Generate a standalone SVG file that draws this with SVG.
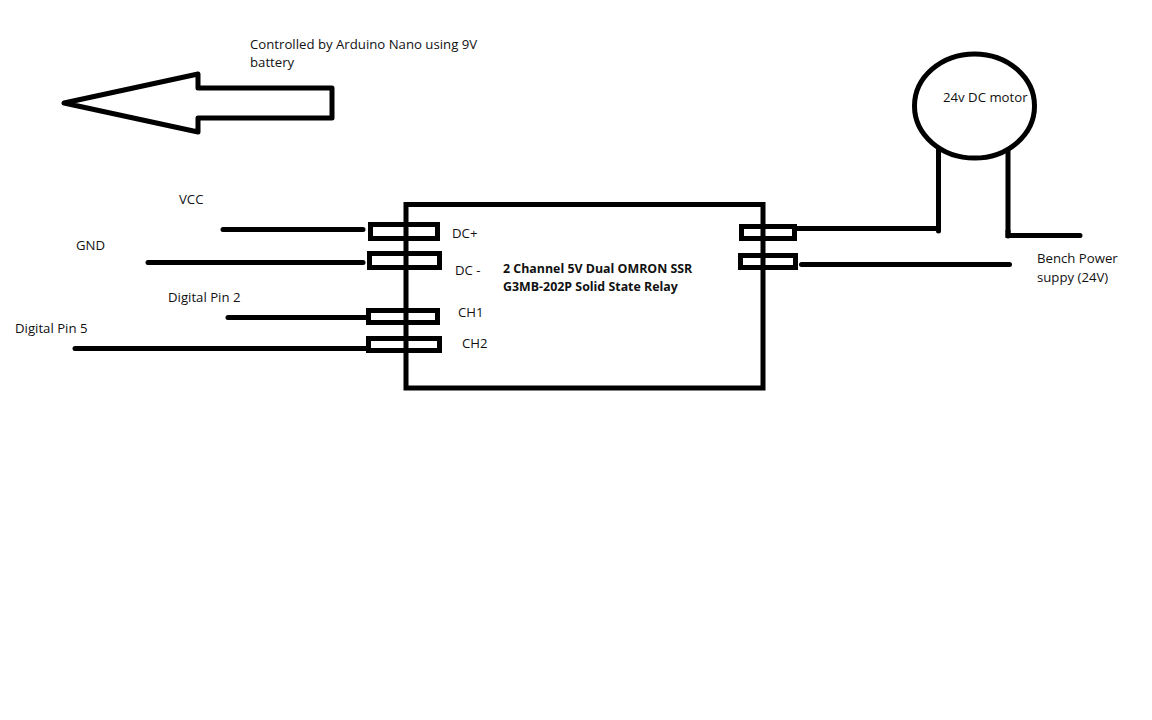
<svg xmlns="http://www.w3.org/2000/svg" width="1152" height="720" viewBox="0 0 1152 720">
<style>
text{font-family:"Open Sans","Noto Sans",sans-serif;font-size:13.2px;fill:#111}
.b{font-weight:700;font-size:12.4px}
.s{fill:none;stroke:#000;stroke-width:5}
.w{fill:none;stroke:#000;stroke-width:5;stroke-linecap:round}
</style>
<rect width="1152" height="720" fill="#fff"/>
<g id="arrow"><polygon class="s" stroke-linejoin="round" points="64,103 198,74 198,88 332,88 332,118 198,118 198,132"/>
<text x="250" y="49">Controlled by Arduino Nano using 9V</text><text x="250" y="67">battery</text></g>
<g id="relay"><rect class="s" x="406" y="204.500" width="357" height="183.500"/>
<text class="b" x="503" y="273">2 Channel 5V Dual OMRON SSR</text><text class="b" x="503" y="291">G3MB-202P Solid State Relay</text></g>
<g id="term-dcplus"><rect class="s" x="370.500" y="224.500" width="67" height="14"/><text x="452" y="238">DC+</text></g>
<g id="term-dcminus"><rect class="s" x="369.500" y="253.500" width="70" height="14"/><text x="455" y="275">DC -</text></g>
<g id="term-ch1"><rect class="s" x="368.500" y="310.500" width="69" height="12"/><text x="458" y="317">CH1</text></g>
<g id="term-ch2"><rect class="s" x="368.500" y="338.500" width="71" height="12"/><text x="462" y="348">CH2</text></g>
<g id="term-out1"><rect class="s" x="741.500" y="226.500" width="53" height="12"/></g>
<g id="term-out2"><rect class="s" x="740.500" y="255.500" width="55" height="12"/></g>
<g id="motor"><ellipse class="s" cx="974.500" cy="106" rx="60" ry="52"/><text x="943" y="102">24v DC motor</text></g>
<g id="label-vcc"><text x="179" y="204">VCC</text></g>
<g id="label-gnd"><text x="76" y="250">GND</text></g>
<g id="label-pin2"><text x="168" y="302">Digital Pin 2</text></g>
<g id="label-pin5"><text x="15" y="333">Digital Pin 5</text></g>
<g id="label-bench"><text x="1037" y="263">Bench Power</text><text x="1037" y="282">suppy (24V)</text></g>
<g id="connectors">
<path class="w" d="M223 229.500H363"/>
<path class="w" d="M148 262.500H363"/>
<path class="w" d="M228 317.500H366"/>
<path class="w" d="M75 348.500H366"/>
<path class="w" d="M797 228.500H938.500V150"/>
<path class="w" d="M938.500 150V231"/>
<path class="w" d="M1080 235.500H1008V150"/>
<path class="w" d="M1008 231V236"/>
<path class="w" d="M801.500 264.500H1009.500"/>
</g>
</svg>
